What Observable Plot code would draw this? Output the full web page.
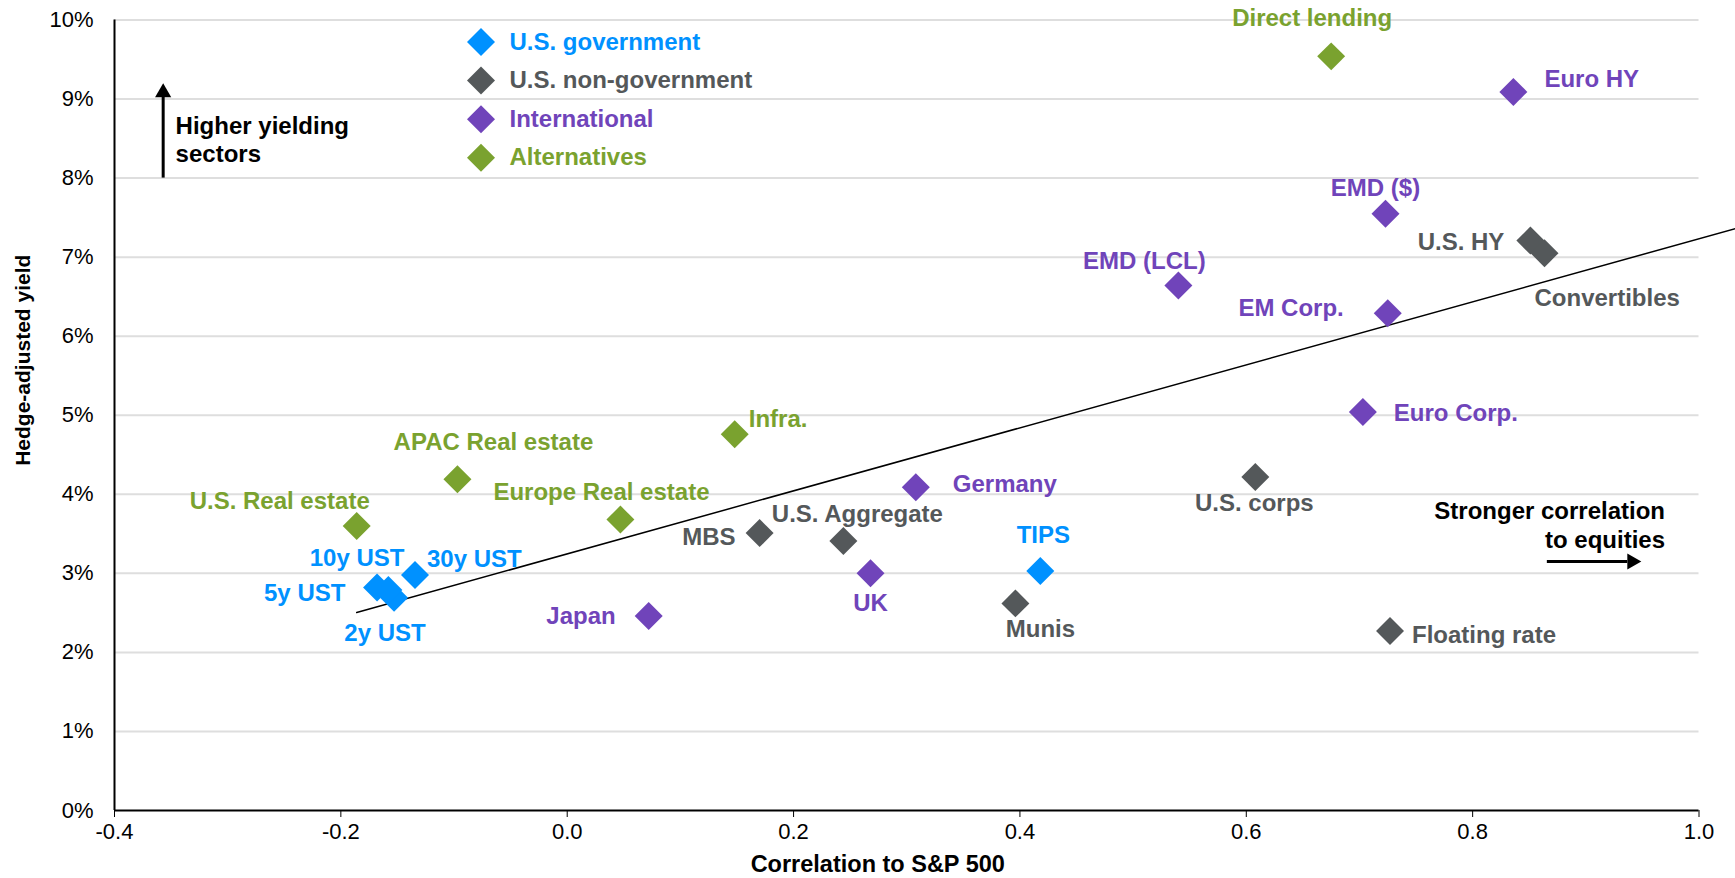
<!DOCTYPE html>
<html><head><meta charset="utf-8">
<script src="https://cdn.jsdelivr.net/npm/d3@7"></script>
<script src="https://cdn.jsdelivr.net/npm/@observablehq/plot@0.6"></script>
<style>
html,body{margin:0;padding:0;background:#fff;}
#chart{width:1735px;height:878px;}
</style></head><body><div id="chart"></div>
<script>
// ---- data ----
const names = ["2y UST","5y UST","10y UST","30y UST","TIPS",
  "MBS","U.S. Aggregate","Munis","U.S. corps","Floating rate","U.S. HY","Convertibles",
  "Japan","UK","Germany","EMD (LCL)","EMD ($)","EM Corp.","Euro Corp.","Euro HY",
  "U.S. Real estate","APAC Real estate","Europe Real estate","Infra.","Direct lending"];
const groups = ["U.S. government","U.S. government","U.S. government","U.S. government","U.S. government",
  "U.S. non-government","U.S. non-government","U.S. non-government","U.S. non-government","U.S. non-government","U.S. non-government","U.S. non-government",
  "International","International","International","International","International","International","International","International",
  "Alternatives","Alternatives","Alternatives","Alternatives","Alternatives"];
const correlation = [-0.153,-0.158,-0.168,-0.1345,0.418,
  0.170,0.244,0.396,0.608,0.727,0.851,0.8635,
  0.072,0.268,0.308,0.540,0.723,0.725,0.703,0.836,
  -0.186,-0.097,0.047,0.148,0.675];
const hedgeYield = [2.69,2.79,2.82,2.98,3.03,
  3.51,3.41,2.62,4.22,2.27,7.21,7.05,
  2.46,3.00,4.09,6.64,7.55,6.29,5.04,9.09,
  3.60,4.19,3.68,4.76,9.54];
const categories = ["U.S. government","U.S. non-government","International","Alternatives"];
const categoryColors = ["#0091ff","#54585a","#7044ba","#7aa22f"];
const xDomain = [-0.4, 1.0];
const yDomain = [0, 10];
const xTicks = [-0.4,-0.2,0.0,0.2,0.4,0.6,0.8,1.0];
const yTicks = [0,1,2,3,4,5,6,7,8,9,10];
const trendX = [-0.186, 1.032];
const trendY = [2.505, 7.36];

// ---- label placement (style) ----
const labelPlacement = {
  "2y UST": ["middle",-9,35], "5y UST": ["end",-43,3], "10y UST": ["middle",-20,-29],
  "30y UST": ["start",12,-16], "TIPS": ["middle",3,-36],
  "MBS": ["end",-24,4], "U.S. Aggregate": ["middle",14,-27], "Munis": ["middle",25,26],
  "U.S. corps": ["middle",-1,26], "Floating rate": ["start",22,4], "U.S. HY": ["end",-26,2],
  "Convertibles": ["start",-10,45],
  "Japan": ["end",-33,0], "UK": ["middle",0,30], "Germany": ["start",37,-3],
  "EMD (LCL)": ["middle",-34,-24], "EMD ($)": ["middle",-10,-25], "EM Corp.": ["end",-44,-5],
  "Euro Corp.": ["start",31,1], "Euro HY": ["start",31,-13],
  "U.S. Real estate": ["middle",-77,-25], "APAC Real estate": ["middle",36,-37],
  "Europe Real estate": ["start",-127,-27], "Infra.": ["start",14,-15], "Direct lending": ["middle",-19,-38]
};
const upNote = {text: "Higher yielding\nsectors", x: -0.357, y1: 8.0, yShaft: 9.08, yTip: 9.2, tx: -0.346, ty: 8.495};
const rightNote = {text: "Stronger correlation\nto equities", y: 3.15, x1: 0.866, xShaft: 0.937, xTip: 0.949, tx: 0.970, ty: 3.623};

const points = names.map((n, i) => ({name: n, group: groups[i], x: correlation[i], y: hedgeYield[i]}));
const trend = trendX.map((x, i) => ({x, y: trendY[i]}));
const colorOf = g => categoryColors[categories.indexOf(g)];
const FS = 24;

const labelMarks = points.map(p => {
  const [anchor, dx, dy] = labelPlacement[p.name];
  return Plot.text([p], {x: "x", y: "y", text: "name", textAnchor: anchor, lineAnchor: "middle", dx, dy,
    fill: colorOf(p.group), fontWeight: "bold", fontSize: FS});
});
const legendMarks = categories.flatMap((c, i) => [
  Plot.dot([c], {frameAnchor: "top-left", dx: 366.5, dy: 22 + i * 38.6, symbol: "diamond2", r: 12.6, fill: categoryColors[i]}),
  Plot.text([c], {frameAnchor: "top-left", dx: 395, dy: 22 + i * 38.6, text: d => d, textAnchor: "start", lineAnchor: "middle",
    fill: categoryColors[i], fontWeight: "bold", fontSize: FS})
]);

const chart = Plot.plot({
  width: 1735, height: 878,
  marginLeft: 114, marginRight: 36.5, marginTop: 19.5, marginBottom: 68,
  style: {fontFamily: "'Liberation Sans', Arial, sans-serif", fontSize: "22px", color: "#000", background: "#fff", overflow: "visible"},
  x: {domain: xDomain, ticks: xTicks, tickFormat: d => d.toFixed(1), tickSize: 7, tickPadding: 6, label: null},
  y: {domain: yDomain, ticks: yTicks, tickFormat: d => d + "%", tickSize: 0, tickPadding: 21, label: null},
  color: {domain: categories, range: categoryColors},
  marks: [
    Plot.ruleY(yTicks.slice(1), {stroke: "#dedede", strokeWidth: 2}),
    Plot.line(trend, {x: "x", y: "y", stroke: "#000", strokeWidth: 1.5}),
    Plot.dot(points, {x: "x", y: "y", fill: "group", symbol: "diamond2", r: 12.6}),
    ...labelMarks,
    ...legendMarks,
    // annotations
    Plot.ruleX([upNote], {x: "x", y1: "y1", y2: "yShaft", stroke: "#000", strokeWidth: 3}),
    Plot.dot([upNote], {x: "x", y: "yTip", dy: 9.3, symbol: "triangle", r: 6, fill: "#000"}),
    Plot.text([upNote], {x: "tx", y: "ty", text: "text", textAnchor: "start", lineAnchor: "middle", lineHeight: 1.18, fontWeight: "bold", fontSize: FS, fill: "#000"}),
    Plot.ruleY([rightNote], {y: "y", x1: "x1", x2: "xShaft", stroke: "#000", strokeWidth: 3}),
    Plot.dot([rightNote], {x: "xTip", y: "y", dx: -9.3, symbol: "triangle", rotate: 90, r: 6, fill: "#000"}),
    Plot.text([rightNote], {x: "tx", y: "ty", text: "text", textAnchor: "end", lineAnchor: "middle", lineHeight: 1.23, fontWeight: "bold", fontSize: FS, fill: "#000"}),
    // axis titles
    Plot.text(["Hedge-adjusted yield"], {frameAnchor: "left", dx: -91.5, dy: -55, rotate: -90, text: d => d, textAnchor: "middle", lineAnchor: "middle", fontWeight: "bold", fontSize: 21, fill: "#000"}),
    Plot.text(["Correlation to S&P 500"], {frameAnchor: "bottom", dx: -29, dy: 54, text: d => d, textAnchor: "middle", lineAnchor: "middle", fontWeight: "bold", fontSize: 23.5, fill: "#000"}),
    // axis lines
    Plot.ruleY([yDomain[0]], {stroke: "#000", strokeWidth: 2}),
    Plot.ruleX([xDomain[0]], {stroke: "#000", strokeWidth: 2})
  ]
});
document.getElementById("chart").appendChild(chart);
</script></body></html>
